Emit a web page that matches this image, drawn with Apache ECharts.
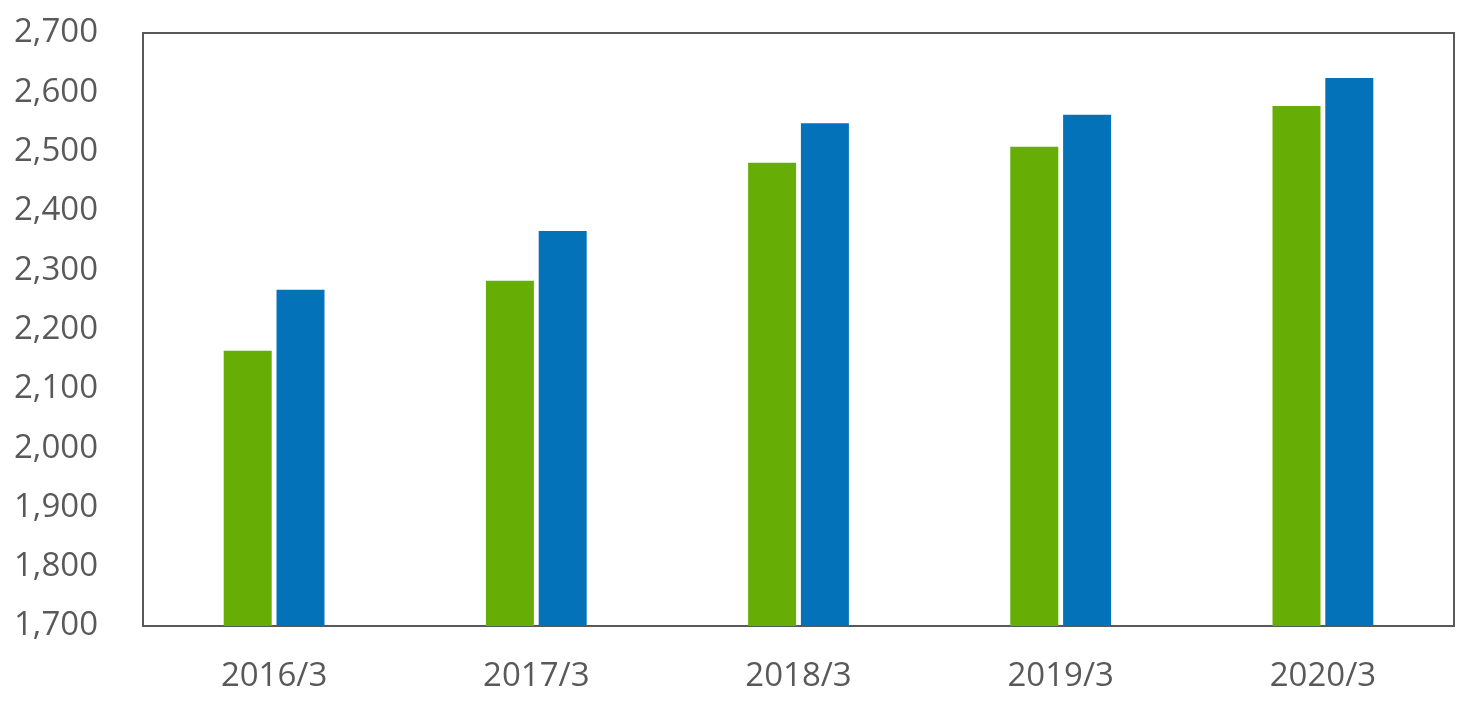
<!DOCTYPE html>
<html>
<head>
<meta charset="utf-8">
<script src="https://cdn.jsdelivr.net/npm/echarts@6/dist/echarts.min.js"></script>
<style>html,body{margin:0;padding:0;background:#fff;}#c{width:1477px;height:709px;}</style>
</head>
<body>
<div id="c"></div>
<script>
const categories = ['2016/3', '2017/3', '2018/3', '2019/3', '2020/3'];
const seriesGreen = [2164, 2282, 2481, 2508, 2577];
const seriesBlue = [2267, 2366, 2548, 2562, 2624];
const yMin = 1700, yMax = 2700, yStep = 100;

const chart = echarts.init(document.getElementById('c'));
const font = 'Open Sans';
chart.setOption({
  animation: false,
  grid: { left: 143, right: 23, top: 33, bottom: 83, show: true, borderColor: '#595959', borderWidth: 2, backgroundColor: 'transparent' },
  xAxis: {
    type: 'category', data: categories,
    axisLine: { show: true, lineStyle: { color: '#595959', width: 2 } },
    axisTick: { show: false },
    axisLabel: { color: '#595959', fontSize: 33, fontFamily: font, margin: 34 }
  },
  yAxis: {
    type: 'value', min: yMin, max: yMax, interval: yStep,
    axisLine: { show: false }, axisTick: { show: false }, splitLine: { show: false },
    axisLabel: { color: '#595959', fontSize: 33, fontFamily: font, margin: 45,
      formatter: v => v.toLocaleString('en-US') }
  },
  series: [
    { type: 'bar', data: seriesGreen, barWidth: 48, barGap: '10%', itemStyle: { color: '#66AD05' } },
    { type: 'bar', data: seriesBlue, barWidth: 48, barGap: '10%', itemStyle: { color: '#0472B9' } }
  ]
});
</script>
</body>
</html>
